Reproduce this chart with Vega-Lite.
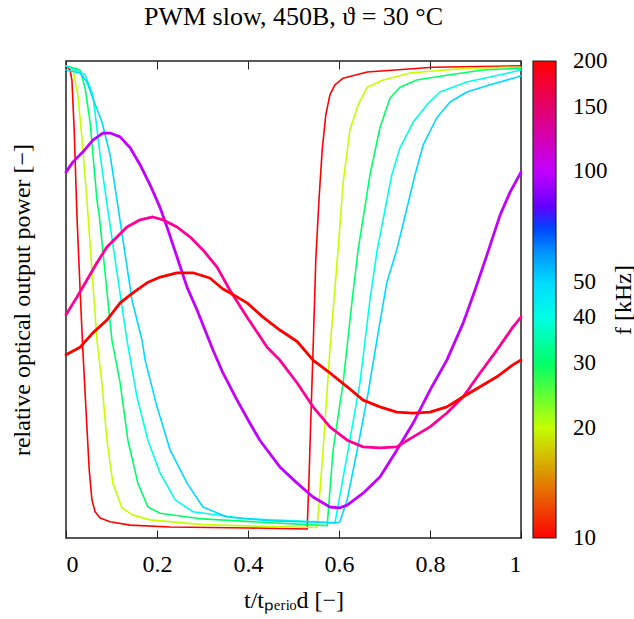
{
  "$schema": "https://vega.github.io/schema/vega-lite/v6.json",
  "width": 455,
  "height": 477,
  "autosize": {"type": "none"},
  "padding": {"left": 66, "top": 61, "right": 113, "bottom": 81},
  "background": "white",
  "title": {"text": "PWM slow,  450B,  ϑ = 30 °C", "font": "Liberation Serif", "fontSize": 26, "fontWeight": "normal", "color": "black", "anchor": "middle", "offset": 31},
  "config": {
    "view": {"stroke": "#222", "strokeWidth": 1.5},
    "font": "Liberation Serif",
    "axis": {"grid": false, "domain": false, "labelFont": "Liberation Serif", "titleFont": "Liberation Serif", "labelColor": "black", "titleColor": "black", "tickColor": "#222", "labelFontSize": 24, "titleFontSize": 24, "titleFontWeight": "normal"}
  },
  "data": {"values": [
    {"f":10,"x":0,"y":0.990},{"f":10,"x":0.009,"y":0.981},{"f":10,"x":0.013,"y":0.960},{"f":10,"x":0.018,"y":0.855},{"f":10,"x":0.024,"y":0.677},{"f":10,"x":0.031,"y":0.520},{"f":10,"x":0.037,"y":0.394},{"f":10,"x":0.044,"y":0.268},{"f":10,"x":0.051,"y":0.143},{"f":10,"x":0.057,"y":0.080},{"f":10,"x":0.064,"y":0.055},{"f":10,"x":0.075,"y":0.042},{"f":10,"x":0.097,"y":0.034},{"f":10,"x":0.141,"y":0.027},{"f":10,"x":0.229,"y":0.023},{"f":10,"x":0.404,"y":0.021},{"f":10,"x":0.530,"y":0.019},{"f":10,"x":0.534,"y":0.122},{"f":10,"x":0.538,"y":0.247},{"f":10,"x":0.543,"y":0.394},{"f":10,"x":0.549,"y":0.583},{"f":10,"x":0.556,"y":0.709},{"f":10,"x":0.563,"y":0.813},{"f":10,"x":0.571,"y":0.887},{"f":10,"x":0.580,"y":0.929},{"f":10,"x":0.591,"y":0.950},{"f":10,"x":0.609,"y":0.964},{"f":10,"x":0.662,"y":0.977},{"f":10,"x":0.807,"y":0.987},{"f":10,"x":1,"y":0.990},
    {"f":20,"x":0,"y":0.990},{"f":20,"x":0.015,"y":0.985},{"f":20,"x":0.026,"y":0.929},{"f":20,"x":0.035,"y":0.839},{"f":20,"x":0.046,"y":0.709},{"f":20,"x":0.068,"y":0.415},{"f":20,"x":0.079,"y":0.325},{"f":20,"x":0.090,"y":0.205},{"f":20,"x":0.103,"y":0.115},{"f":20,"x":0.123,"y":0.063},{"f":20,"x":0.147,"y":0.048},{"f":20,"x":0.185,"y":0.038},{"f":20,"x":0.300,"y":0.028},{"f":20,"x":0.450,"y":0.024},{"f":20,"x":0.552,"y":0.022},{"f":20,"x":0.565,"y":0.184},{"f":20,"x":0.580,"y":0.394},{"f":20,"x":0.598,"y":0.604},{"f":20,"x":0.609,"y":0.744},{"f":20,"x":0.624,"y":0.855},{"f":20,"x":0.642,"y":0.908},{"f":20,"x":0.662,"y":0.945},{"f":20,"x":0.697,"y":0.960},{"f":20,"x":0.756,"y":0.975},{"f":20,"x":0.881,"y":0.985},{"f":20,"x":1,"y":0.987},
    {"f":30,"x":0,"y":0.990},{"f":30,"x":0.031,"y":0.981},{"f":30,"x":0.042,"y":0.943},{"f":30,"x":0.053,"y":0.872},{"f":30,"x":0.068,"y":0.709},{"f":30,"x":0.073,"y":0.677},{"f":30,"x":0.101,"y":0.415},{"f":30,"x":0.119,"y":0.325},{"f":30,"x":0.136,"y":0.205},{"f":30,"x":0.158,"y":0.115},{"f":30,"x":0.180,"y":0.065},{"f":30,"x":0.207,"y":0.052},{"f":30,"x":0.300,"y":0.040},{"f":30,"x":0.450,"y":0.032},{"f":30,"x":0.574,"y":0.026},{"f":30,"x":0.587,"y":0.184},{"f":30,"x":0.609,"y":0.325},{"f":30,"x":0.629,"y":0.499},{"f":30,"x":0.642,"y":0.604},{"f":30,"x":0.668,"y":0.761},{"f":30,"x":0.690,"y":0.860},{"f":30,"x":0.712,"y":0.922},{"f":30,"x":0.734,"y":0.945},{"f":30,"x":0.771,"y":0.960},{"f":30,"x":0.844,"y":0.971},{"f":30,"x":0.916,"y":0.981},{"f":30,"x":1,"y":0.985},
    {"f":40,"x":0,"y":0.990},{"f":40,"x":0.042,"y":0.971},{"f":40,"x":0.059,"y":0.929},{"f":40,"x":0.075,"y":0.803},{"f":40,"x":0.090,"y":0.700},{"f":40,"x":0.134,"y":0.415},{"f":40,"x":0.156,"y":0.296},{"f":40,"x":0.180,"y":0.205},{"f":40,"x":0.207,"y":0.136},{"f":40,"x":0.240,"y":0.080},{"f":40,"x":0.279,"y":0.055},{"f":40,"x":0.400,"y":0.040},{"f":40,"x":0.550,"y":0.034},{"f":40,"x":0.591,"y":0.031},{"f":40,"x":0.620,"y":0.184},{"f":40,"x":0.646,"y":0.325},{"f":40,"x":0.668,"y":0.499},{"f":40,"x":0.684,"y":0.604},{"f":40,"x":0.716,"y":0.761},{"f":40,"x":0.734,"y":0.818},{"f":40,"x":0.763,"y":0.872},{"f":40,"x":0.793,"y":0.908},{"f":40,"x":0.822,"y":0.935},{"f":40,"x":0.881,"y":0.956},{"f":40,"x":0.954,"y":0.971},{"f":40,"x":1,"y":0.981},
    {"f":50,"x":0,"y":0.981},{"f":50,"x":0.031,"y":0.975},{"f":50,"x":0.046,"y":0.956},{"f":50,"x":0.059,"y":0.922},{"f":50,"x":0.079,"y":0.872},{"f":50,"x":0.097,"y":0.803},{"f":50,"x":0.112,"y":0.709},{"f":50,"x":0.145,"y":0.499},{"f":50,"x":0.167,"y":0.415},{"f":50,"x":0.174,"y":0.373},{"f":50,"x":0.200,"y":0.275},{"f":50,"x":0.229,"y":0.184},{"f":50,"x":0.266,"y":0.115},{"f":50,"x":0.301,"y":0.065},{"f":50,"x":0.354,"y":0.044},{"f":50,"x":0.450,"y":0.036},{"f":50,"x":0.596,"y":0.032},{"f":50,"x":0.602,"y":0.034},{"f":50,"x":0.618,"y":0.080},{"f":50,"x":0.640,"y":0.184},{"f":50,"x":0.664,"y":0.304},{"f":50,"x":0.686,"y":0.430},{"f":50,"x":0.705,"y":0.535},{"f":50,"x":0.727,"y":0.604},{"f":50,"x":0.767,"y":0.761},{"f":50,"x":0.785,"y":0.824},{"f":50,"x":0.815,"y":0.881},{"f":50,"x":0.844,"y":0.914},{"f":50,"x":0.881,"y":0.935},{"f":50,"x":0.932,"y":0.950},{"f":50,"x":0.991,"y":0.966},{"f":50,"x":1,"y":0.969},
    {"f":100,"x":0,"y":0.767},{"f":100,"x":0.015,"y":0.788},{"f":100,"x":0.037,"y":0.809},{"f":100,"x":0.059,"y":0.834},{"f":100,"x":0.081,"y":0.849},{"f":100,"x":0.097,"y":0.849},{"f":100,"x":0.119,"y":0.841},{"f":100,"x":0.141,"y":0.818},{"f":100,"x":0.163,"y":0.782},{"f":100,"x":0.185,"y":0.740},{"f":100,"x":0.207,"y":0.692},{"f":100,"x":0.222,"y":0.652},{"f":100,"x":0.244,"y":0.589},{"f":100,"x":0.266,"y":0.526},{"f":100,"x":0.288,"y":0.478},{"f":100,"x":0.323,"y":0.394},{"f":100,"x":0.345,"y":0.346},{"f":100,"x":0.376,"y":0.289},{"f":100,"x":0.404,"y":0.241},{"f":100,"x":0.426,"y":0.205},{"f":100,"x":0.470,"y":0.149},{"f":100,"x":0.508,"y":0.115},{"f":100,"x":0.543,"y":0.086},{"f":100,"x":0.580,"y":0.065},{"f":100,"x":0.600,"y":0.063},{"f":100,"x":0.618,"y":0.069},{"f":100,"x":0.653,"y":0.094},{"f":100,"x":0.690,"y":0.128},{"f":100,"x":0.727,"y":0.184},{"f":100,"x":0.763,"y":0.241},{"f":100,"x":0.800,"y":0.310},{"f":100,"x":0.837,"y":0.373},{"f":100,"x":0.873,"y":0.451},{"f":100,"x":0.899,"y":0.520},{"f":100,"x":0.925,"y":0.593},{"f":100,"x":0.954,"y":0.677},{"f":100,"x":0.976,"y":0.725},{"f":100,"x":1,"y":0.767},
    {"f":150,"x":0,"y":0.468},{"f":150,"x":0.024,"y":0.505},{"f":150,"x":0.046,"y":0.541},{"f":150,"x":0.068,"y":0.577},{"f":150,"x":0.090,"y":0.610},{"f":150,"x":0.112,"y":0.631},{"f":150,"x":0.134,"y":0.652},{"f":150,"x":0.163,"y":0.667},{"f":150,"x":0.191,"y":0.673},{"f":150,"x":0.213,"y":0.667},{"f":150,"x":0.244,"y":0.652},{"f":150,"x":0.273,"y":0.631},{"f":150,"x":0.301,"y":0.604},{"f":150,"x":0.332,"y":0.568},{"f":150,"x":0.360,"y":0.520},{"f":150,"x":0.398,"y":0.463},{"f":150,"x":0.442,"y":0.400},{"f":150,"x":0.470,"y":0.373},{"f":150,"x":0.508,"y":0.325},{"f":150,"x":0.543,"y":0.275},{"f":150,"x":0.580,"y":0.233},{"f":150,"x":0.618,"y":0.205},{"f":150,"x":0.653,"y":0.191},{"f":150,"x":0.690,"y":0.189},{"f":150,"x":0.727,"y":0.191},{"f":150,"x":0.763,"y":0.212},{"f":150,"x":0.800,"y":0.233},{"f":150,"x":0.837,"y":0.262},{"f":150,"x":0.873,"y":0.296},{"f":150,"x":0.910,"y":0.346},{"f":150,"x":0.947,"y":0.394},{"f":150,"x":0.982,"y":0.442},{"f":150,"x":1,"y":0.463},
    {"f":200,"x":0,"y":0.384},{"f":200,"x":0.031,"y":0.400},{"f":200,"x":0.059,"y":0.430},{"f":200,"x":0.090,"y":0.457},{"f":200,"x":0.119,"y":0.493},{"f":200,"x":0.147,"y":0.514},{"f":200,"x":0.178,"y":0.535},{"f":200,"x":0.207,"y":0.547},{"f":200,"x":0.244,"y":0.556},{"f":200,"x":0.279,"y":0.556},{"f":200,"x":0.316,"y":0.545},{"f":200,"x":0.345,"y":0.522},{"f":200,"x":0.360,"y":0.514},{"f":200,"x":0.398,"y":0.493},{"f":200,"x":0.433,"y":0.463},{"f":200,"x":0.470,"y":0.436},{"f":200,"x":0.508,"y":0.412},{"f":200,"x":0.543,"y":0.373},{"f":200,"x":0.580,"y":0.346},{"f":200,"x":0.618,"y":0.317},{"f":200,"x":0.653,"y":0.289},{"f":200,"x":0.690,"y":0.275},{"f":200,"x":0.727,"y":0.264},{"f":200,"x":0.763,"y":0.262},{"f":200,"x":0.800,"y":0.264},{"f":200,"x":0.837,"y":0.275},{"f":200,"x":0.873,"y":0.296},{"f":200,"x":0.910,"y":0.317},{"f":200,"x":0.947,"y":0.338},{"f":200,"x":0.982,"y":0.363},{"f":200,"x":1,"y":0.373}
  ]},
  "resolve": {"axis": {"x": "independent", "y": "independent"}},
  "layer": [
    {
      "mark": {"type": "line", "strokeJoin": "round", "strokeCap": "round"},
      "encoding": {
        "x": {"field": "x", "type": "quantitative", "scale": {"domain": [0, 1], "nice": false, "zero": false},
              "axis": {"orient": "bottom", "values": [0, 0.2, 0.4, 0.6, 0.8, 1], "format": "~g", "tickSize": -8, "labelPadding": 22, "title": "t/tₚₑᵣᵢₒd [−]", "titlePadding": 12}},
        "y": {"field": "y", "type": "quantitative", "scale": {"domain": [0, 1], "nice": false, "zero": false},
              "axis": {"orient": "left", "ticks": false, "labels": false, "title": "relative optical output power [−]", "titlePadding": 32}},
        "color": {"field": "f", "type": "quantitative",
                  "scale": {"type": "log", "domain": [9.998, 16.475, 27.14, 44.72, 73.68, 121.4, 200.04], "range": ["#ff0000", "#ffff00", "#00ff00", "#00ffff", "#0000ff", "#ff00ff", "#ff0000"]},
                  "legend": {"title": null, "orient": "none", "legendX": 467, "legendY": 0, "values": [10, 20, 30, 40, 50, 100, 150, 200], "format": "d", "direction": "vertical", "gradientLength": 477, "gradientThickness": 23, "padding": 0, "labelFont": "Liberation Serif", "labelFontSize": 23, "labelColor": "black", "labelOffset": 17, "labelBaseline": "middle", "labelOverlap": false, "gradientStrokeColor": "#222", "gradientStrokeWidth": 1.2}},
        "strokeWidth": {"field": "f", "type": "quantitative", "scale": {"type": "threshold", "domain": [75], "range": [1.6, 2.8]}, "legend": null}
      }
    },
    {
      "data": {"values": [{"x": 0, "y": 0}]},
      "mark": {"type": "point", "opacity": 0},
      "encoding": {
        "x": {"field": "x", "type": "quantitative", "scale": {"domain": [0, 1], "nice": false, "zero": false},
              "axis": {"orient": "top", "values": [0, 0.2, 0.4, 0.6, 0.8, 1], "labels": false, "tickSize": -8, "title": null}},
        "y": {"field": "y", "type": "quantitative", "scale": {"domain": [0, 1], "nice": false, "zero": false},
              "axis": {"orient": "right", "ticks": false, "labels": false, "title": "f [kHz]", "titleAngle": 270, "titleBaseline": "top", "titlePadding": 90}}
      }
    }
  ]
}
